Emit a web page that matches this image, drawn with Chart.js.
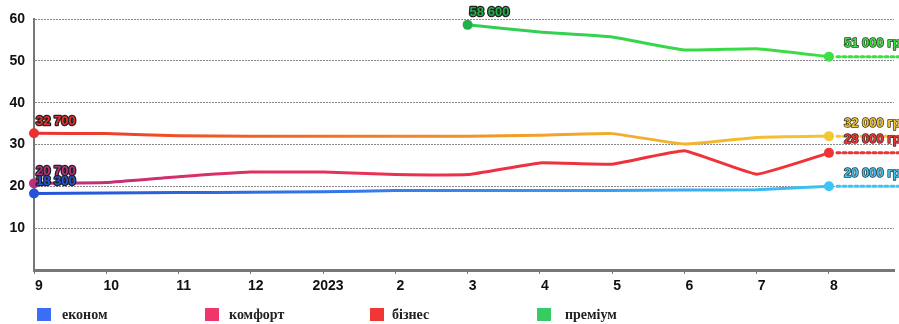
<!DOCTYPE html>
<html>
<head>
<meta charset="utf-8">
<script src="https://cdn.jsdelivr.net/npm/chart.js@4"></script>
<style>
  body { margin: 0; background: #fff; }
  #wrap { width: 899px; height: 324px; position: relative; }
</style>
</head>
<body>
<div id="wrap"><canvas id="chart"></canvas></div>
<script>
// months Sep 2022 .. Aug 2023, prices in thousands of UAH
const months = ['9', '10', '11', '12', '2023', '2', '3', '4', '5', '6', '7', '8'];
const econom = [18.3, 18.4, 18.5, 18.6, 18.7, 19.0, 19.0, 19.0, 19.0, 19.1, 19.2, 20.0];
const comfort = [20.7, 20.9, 22.3, 23.4, 23.4, 22.8, 22.8, 25.6, 25.3, 28.5, 22.9, 28.0];
const business = [32.7, 32.6, 32.1, 32.0, 32.0, 32.0, 32.0, 32.2, 32.6, 30.1, 31.7, 32.0];
const premium = [null, null, null, null, null, null, 58.6, 56.9, 55.7, 52.6, 52.9, 51.0];
const yTicks = [10, 20, 30, 40, 50, 60];
const seriesNames = ['економ', 'комфорт', 'бізнес', 'преміум'];

const legendColors = ['#3a6ff5', '#f0356a', '#f23636', '#36cc62'];
const gradStops = [
    [[0, '#2452d8'], [0.5, '#3a86ee'], [0.93, '#3cc4f4']],
    [[0, '#b8307e'], [0.3, '#e8305e'], [0.6, '#f03040'], [0.93, '#f03434']],
    [[0, '#ec3030'], [0.3, '#f06a22'], [0.6, '#f2a42a'], [0.93, '#f3c632']],
    [[0, '#22b04a'], [0.5, '#30cc55'], [0.93, '#3ce040']]
];
const legendX = [37, 205, 370, 537];
const textX = [62, 229, 392, 565];

function fmt(v) {
    const n = Math.round(v * 1000);
    return Math.floor(n / 1000) + ' ' + String(n % 1000).padStart(3, '0');
}

function gradient(i) {
    return function(ctx) {
        const chart = ctx.chart;
        const a = chart.chartArea;
        if (!a) return gradStops[i][0][1];
        const g = chart.ctx.createLinearGradient(a.left, 0, a.right, 0);
        gradStops[i].forEach(s => g.addColorStop(s[0], s[1]));
        return g;
    };
}

function toPoints(arr) {
    return arr.map((v, i) => ({ x: i, y: v }));
}

function firstIdx(arr) { return arr.findIndex(v => v !== null); }
function lastIdx(arr) { for (let i = arr.length - 1; i >= 0; i--) if (arr[i] !== null) return i; return -1; }

const allSeries = [econom, comfort, business, premium];

const datasets = allSeries.map((arr, i) => ({
    label: seriesNames[i],
    data: toPoints(arr),
    borderColor: gradient(i),
    borderWidth: 3,
    tension: 0.1,
    clip: false,
    pointRadius: ctx => (ctx.dataIndex === firstIdx(arr) || ctx.dataIndex === lastIdx(arr)) ? 5 : 0,
    pointBackgroundColor: ctx => ctx.dataIndex === firstIdx(arr) ? gradStops[i][0][1] : gradStops[i][gradStops[i].length - 1][1],
    pointBorderWidth: 0,
    fill: false
}));

const extrasPlugin = {
    id: 'extras',
    afterDatasetsDraw(chart) {
        const ctx = chart.ctx;
        const a = chart.chartArea;
        const xs = chart.scales.x;
        const ys = chart.scales.y;
        ctx.save();
        allSeries.forEach((arr, i) => {
            const l = lastIdx(arr);
            const endColor = gradStops[i][gradStops[i].length - 1][1];
            const lx = xs.getPixelForValue(l), ly = ys.getPixelForValue(arr[l]);
            // dotted extension to the right edge
            ctx.beginPath();
            ctx.setLineDash([3, 3]);
            ctx.lineCap = 'round';
            ctx.lineWidth = 3;
            ctx.strokeStyle = endColor;
            ctx.moveTo(lx + 8, ly);
            ctx.lineTo(chart.width, ly);
            ctx.stroke();
            ctx.setLineDash([]);
        });
        ctx.font = 'bold 13px "Liberation Sans", Arial, sans-serif';
        ctx.textBaseline = 'middle';
        ctx.textAlign = 'left';
        ctx.lineJoin = 'round';
        allSeries.forEach((arr, i) => {
            const f = firstIdx(arr), l = lastIdx(arr);
            const startColor = gradStops[i][0][1];
            const endColor = gradStops[i][gradStops[i].length - 1][1];
            const fx = xs.getPixelForValue(f), fy = ys.getPixelForValue(arr[f]);
            const lx = xs.getPixelForValue(l), ly = ys.getPixelForValue(arr[l]);
            ctx.lineWidth = 2.5;
            ctx.strokeStyle = '#222';
            ctx.fillStyle = startColor;
            ctx.strokeText(fmt(arr[f]), fx + 2, fy - 12);
            ctx.fillText(fmt(arr[f]), fx + 2, fy - 12);
            ctx.lineWidth = 1.5;
            ctx.strokeStyle = '#333';
            ctx.fillStyle = endColor;
            ctx.strokeText(fmt(arr[l]) + ' гр', lx + 15, ly - 13);
            ctx.fillText(fmt(arr[l]) + ' гр', lx + 15, ly - 13);
        });
        // legend
        ctx.font = 'bold 14px "Liberation Serif", "Times New Roman", serif';
        seriesNames.forEach((name, i) => {
            ctx.fillStyle = legendColors[i];
            ctx.fillRect(legendX[i], 308, 14, 13);
            ctx.fillStyle = '#222';
            ctx.fillText(name, textX[i], 315);
        });
        ctx.restore();
    }
};

new Chart(document.getElementById('chart'), {
    type: 'line',
    data: { datasets: datasets },
    options: {
        responsive: true,
        maintainAspectRatio: false,
        animation: false,
        layout: { padding: { top: 19, right: 0, left: 0, bottom: 0 } },
        plugins: {
            legend: { display: false },
            tooltip: { enabled: false }
        },
        scales: {
            x: {
                type: 'linear',
                min: 0,
                max: 11.9,
                afterBuildTicks: s => { s.ticks = months.map((m, i) => ({ value: i })); },
                afterFit: s => { s.height = 54; },
                ticks: {
                    autoSkip: false,
                    maxRotation: 0,
                    padding: 4,
                    labelOffset: 5,
                    color: '#111',
                    font: { family: '"Liberation Sans", Arial, sans-serif', size: 14, weight: 'bold' },
                    callback: v => months[v] || ''
                },
                grid: { drawOnChartArea: false, drawTicks: true, tickLength: 4, color: '#777', lineWidth: 1 },
                border: { display: true, color: '#777', width: 3 }
            },
            y: {
                min: 0,
                max: 60,
                afterBuildTicks: s => { s.ticks = yTicks.map(v => ({ value: v })); },
                afterFit: s => { s.width = 34; },
                ticks: {
                    padding: 9,
                    color: '#111',
                    font: { family: '"Liberation Sans", Arial, sans-serif', size: 14, weight: 'bold' }
                },
                grid: { drawTicks: false, color: '#888', lineWidth: 1 },
                border: { display: true, color: '#777', width: 2, dash: [2, 1] }
            }
        }
    },
    plugins: [extrasPlugin]
});
</script>
</body>
</html>
